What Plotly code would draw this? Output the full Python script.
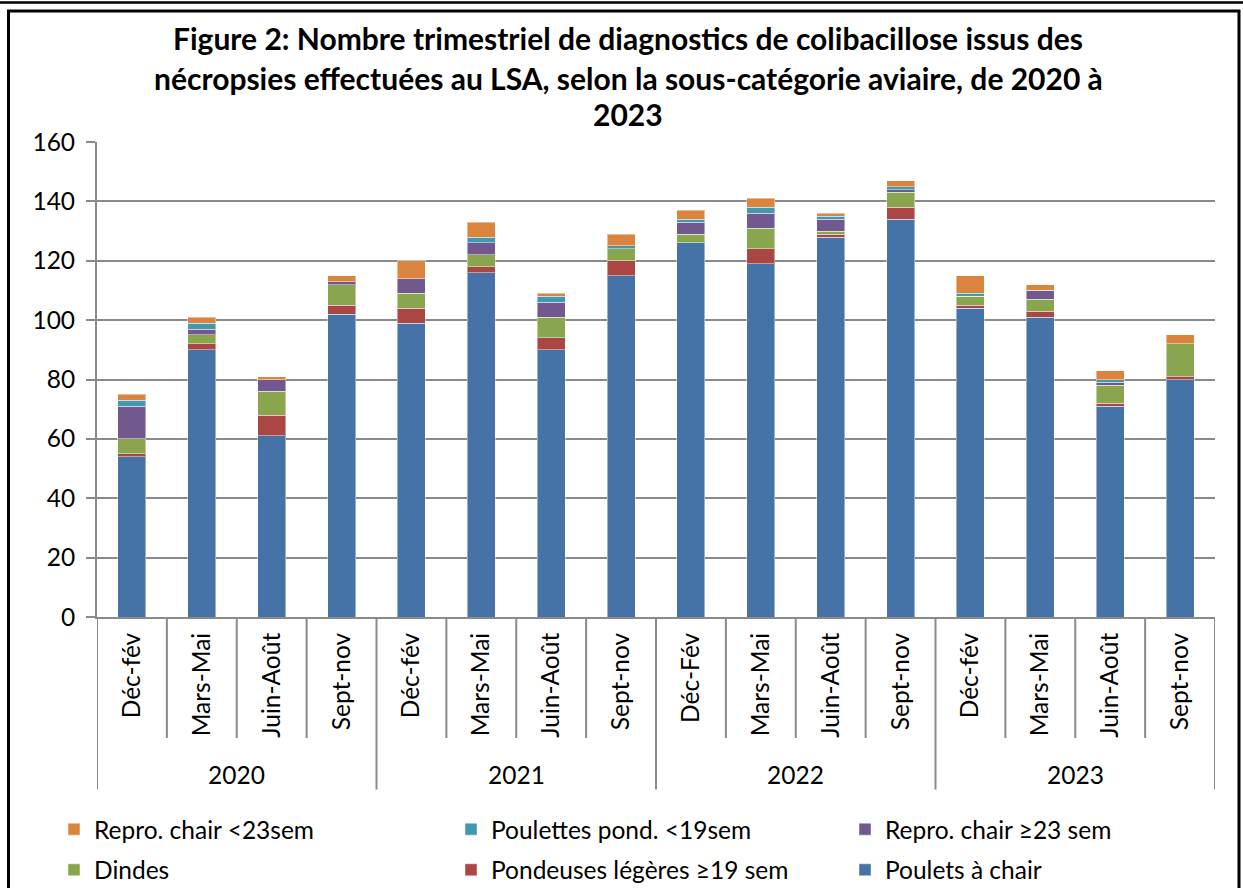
import plotly.graph_objects as go

# ---------------- data ----------------
quarters = ["Déc-fév", "Mars-Mai", "Juin-Août", "Sept-nov",
            "Déc-fév", "Mars-Mai", "Juin-Août", "Sept-nov",
            "Déc-Fév", "Mars-Mai", "Juin-Août", "Sept-nov",
            "Déc-fév", "Mars-Mai", "Juin-Août", "Sept-nov"]
years = ["2020", "2021", "2022", "2023"]

poulets_chair = [54, 90, 61, 102, 99, 116, 90, 115, 126, 119, 128, 134, 104, 101, 71, 80]
pondeuses_legeres = [1, 2, 7, 3, 5, 2, 4, 5, 0, 5, 1, 4, 1, 2, 1, 1]
dindes = [5, 3, 8, 7, 5, 4, 7, 4, 3, 7, 1, 5, 3, 4, 6, 11]
repro_chair_ge23 = [11, 2, 4, 1, 5, 4, 5, 0, 4, 5, 4, 1, 0, 3, 1, 0]
poulettes_pond = [2, 2, 0, 0, 0, 2, 2, 1, 1, 2, 1, 1, 1, 0, 1, 0]
repro_chair_lt23 = [2, 2, 1, 2, 6, 5, 1, 4, 3, 3, 1, 2, 6, 2, 3, 3]

series_names = ["Poulets à chair", "Pondeuses légères ≥19 sem", "Dindes",
                "Repro. chair ≥23 sem", "Poulettes pond. &lt;19sem", "Repro. chair &lt;23sem"]
series_values = [poulets_chair, pondeuses_legeres, dindes,
                 repro_chair_ge23, poulettes_pond, repro_chair_lt23]
colors = ["#4572A7", "#AA4643", "#89A54E", "#71588F", "#4198AF", "#DB843D"]

# ---------------- geometry (pixels) ----------------
W, H = 1243, 888
FIG_H = 904  # a little taller than the window so the legends do not push the margin
PL, PR, PT, PB = 97, 1215, 142, 621  # plot area
FONT = "Lato"
TXT = 24.5
GRID = "#8A8A8A"


def px_x(px):
    return (px - PL) / (PR - PL)


def px_y(py):
    return (PB - py) / (PB - PT)


xs = list(range(len(quarters)))

fig = go.Figure()
# legend placement: (legend id, symbol center x, center y)
legend_pos = {
    5: ("legend", 74, 835),
    4: ("legend2", 471, 835),
    3: ("legend3", 865, 835),
    2: ("legend4", 74, 876),
    1: ("legend5", 471, 876),
    0: ("legend6", 865, 876),
}
for i, (name, vals, col) in enumerate(zip(series_names, series_values, colors)):
    fig.add_trace(go.Bar(
        x=xs, y=vals, name=name, marker_color=col,
        marker_line=dict(color="rgba(255,255,255,0.45)", width=1),
        width=0.4, legend=legend_pos[i][0],
    ))

layout_legends = {}
for i, (lid, cx, cy) in legend_pos.items():
    layout_legends[lid] = dict(
        x=px_x(cx - 20), y=px_y(cy), xanchor="left", yanchor="middle",
        orientation="h", bgcolor="rgba(0,0,0,0)", borderwidth=0,
        font=dict(family=FONT, size=TXT, color="#000000"),
        itemclick=False, itemdoubleclick=False,
    )

shapes = []
# outer frame
shapes.append(dict(type="rect", xref="paper", yref="paper",
                   x0=px_x(0), x1=px_x(W), y0=px_y(0), y1=px_y(2.5),
                   fillcolor="black", line=dict(width=0), layer="above"))
shapes.append(dict(type="rect", xref="paper", yref="paper",
                   x0=px_x(8.5), x1=px_x(1239), y0=px_y(10), y1=px_y(FIG_H + 10),
                   line=dict(color="black", width=3), fillcolor="rgba(0,0,0,0)"))
# category separators
n = len(quarters)
for k in range(n + 1):
    long = (k % 4 == 0)
    shapes.append(dict(type="line", xref="x", yref="paper",
                       x0=k - 0.5, x1=k - 0.5, y0=0,
                       y1=px_y(795 if long else 743),
                       line=dict(color=GRID, width=2)))

annotations = []
title_lines = [
    ("Figure 2: Nombre trimestriel de diagnostics de colibacillose issus des", 37),
    ("nécropsies effectuées au LSA, selon la sous-catégorie aviaire, de 2020 à", 77),
    ("2023", 114),
]
for txt, py in title_lines:
    annotations.append(dict(text="<b>" + txt + "</b>", xref="paper", yref="paper",
                            x=px_x(628), y=px_y(py), xanchor="center", yanchor="middle",
                            showarrow=False, font=dict(family=FONT, size=30, color="#000000")))
for j, yr in enumerate(years):
    annotations.append(dict(text=yr, xref="x", yref="paper",
                            x=4 * j + 1.5, y=px_y(780), xanchor="center", yanchor="middle",
                            showarrow=False, font=dict(family=FONT, size=TXT, color="#000000")))

fig.update_layout(
    width=W, height=FIG_H,
    margin=dict(l=PL, r=W - PR, t=PT, b=FIG_H - PB, pad=0),
    paper_bgcolor="white", plot_bgcolor="white",
    barmode="stack",
    showlegend=True,
    shapes=shapes, annotations=annotations,
    font=dict(family=FONT, size=TXT, color="#000000"),
    **layout_legends,
)
fig.update_xaxes(
    range=[-0.5, n - 0.5], tickmode="array", tickvals=xs, ticktext=quarters,
    tickangle=-90, showgrid=False, zeroline=False,
    showline=True, linecolor=GRID, linewidth=2, ticks="", ticklabelstandoff=4,
    tickfont=dict(family=FONT, size=TXT, color="#000000"),
    automargin=False,
)
fig.update_yaxes(
    range=[0, 160], tick0=0, dtick=20, showgrid=True, gridcolor=GRID, gridwidth=2,
    zeroline=False, showline=True, linecolor=GRID, linewidth=2,
    ticks="outside", ticklen=9, tickcolor=GRID, tickwidth=2, ticklabelstandoff=6,
    tickfont=dict(family=FONT, size=TXT, color="#000000"),
    automargin=False,
)

fig.write_html("out.html", config={"displayModeBar": False},
               post_script="document.body.style.margin='0';document.body.style.overflow='hidden';")
